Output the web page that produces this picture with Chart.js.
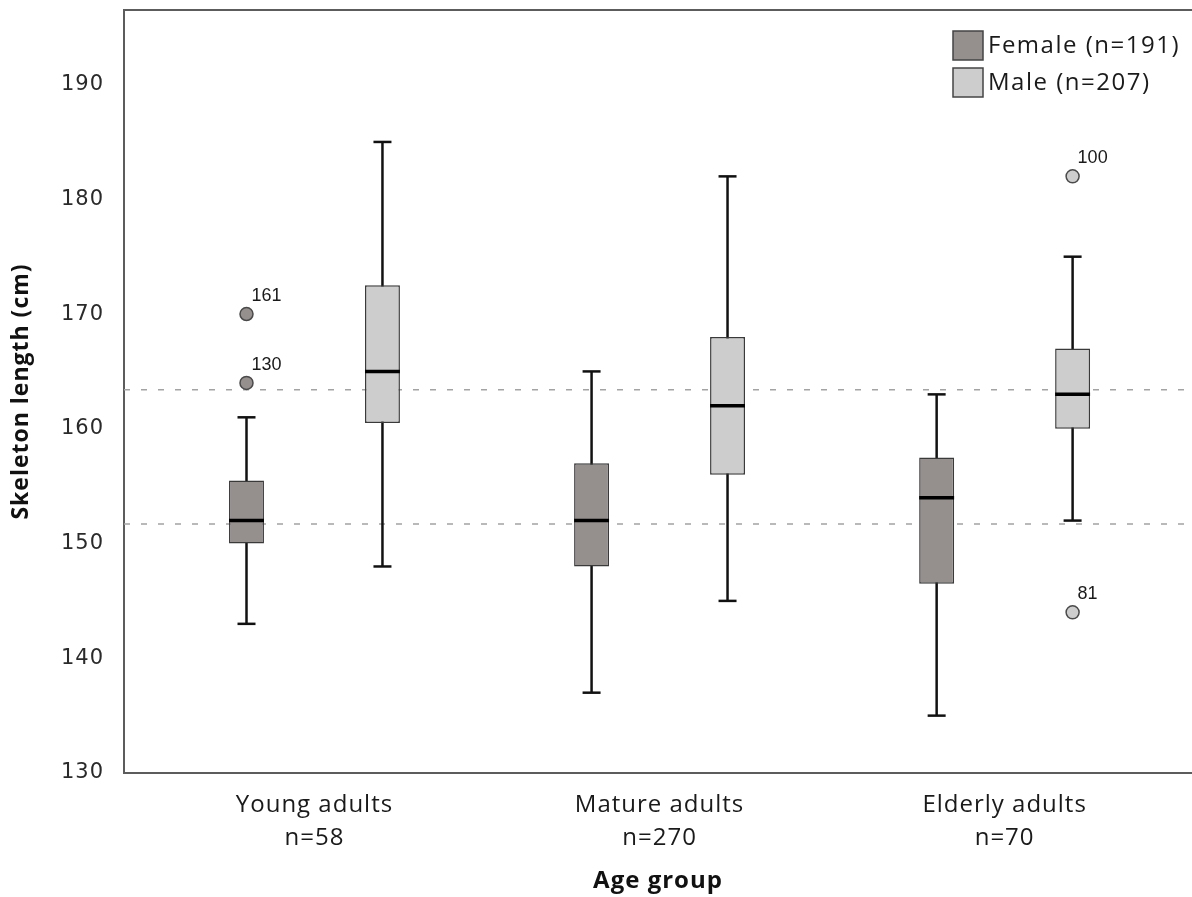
<!DOCTYPE html>
<html>
<head>
<meta charset="utf-8">
<script src="https://cdn.jsdelivr.net/npm/chart.js@4/dist/chart.umd.min.js"></script>
<style>
  html, body { margin: 0; padding: 0; background: #fff; }
  #wrap { width: 1192px; height: 897px; position: relative; }
</style>
</head>
<body>
<div id="wrap"><canvas id="chart"></canvas></div>
<script>
// categories
const groups = ['Young adults', 'Mature adults', 'Elderly adults'];
const groupN = ['n=58', 'n=270', 'n=70'];

// Female (n=191) five-number summaries, one per age group
const femaleMin = [143, 137, 135];
const femaleQ1 = [150, 148, 146.5];
const femaleMedian = [152, 152, 154];
const femaleQ3 = [155.5, 157, 157.5];
const femaleMax = [161, 165, 163];

// Male (n=207)
const maleMin = [148, 145, 152];
const maleQ1 = [160.5, 156, 160];
const maleMedian = [165, 162, 163];
const maleQ3 = [172.5, 168, 167];
const maleMax = [185, 182, 175];

// outliers: group index, value, case label
const femaleOutlierGroup = [0, 0];
const femaleOutlierValue = [170, 164];
const femaleOutlierCase = ['161', '130'];
const maleOutlierGroup = [2, 2];
const maleOutlierValue = [182, 144];
const maleOutlierCase = ['100', '81'];

// dashed reference lines
const refLines = [163.4, 151.7];

const yTicks = [130, 140, 150, 160, 170, 180, 190];

const series = [
    { label: 'Female (n=191)', color: '#958f8e', min: femaleMin, q1: femaleQ1, med: femaleMedian, q3: femaleQ3, max: femaleMax,
      outGroup: femaleOutlierGroup, outValue: femaleOutlierValue, outCase: femaleOutlierCase },
    { label: 'Male (n=207)', color: '#cdcdcd', min: maleMin, q1: maleQ1, med: maleMedian, q3: maleQ3, max: maleMax,
      outGroup: maleOutlierGroup, outValue: maleOutlierValue, outCase: maleOutlierCase }
];

function seg(ctx, x1, y1, x2, y2) {
    ctx.beginPath();
    ctx.moveTo(x1, y1);
    ctx.lineTo(x2, y2);
    ctx.stroke();
}

const boxPlot = {
    id: 'boxPlot',
    beforeDraw(chart) {
        // the reference text is set a little loose
        chart.ctx.letterSpacing = '1px';
    },
    beforeDatasetsDraw(chart) {
        const { ctx, chartArea, scales: { y } } = chart;
        ctx.save();
        // reference lines
        ctx.strokeStyle = '#a3a3a3';
        ctx.lineWidth = 1.5;
        ctx.setLineDash([6, 11]);
        refLines.forEach(v => {
            const py = y.getPixelForValue(v);
            seg(ctx, chartArea.left, py, chartArea.right, py);
        });
        ctx.setLineDash([]);
        // whiskers
        ctx.strokeStyle = '#111';
        ctx.lineWidth = 2.5;
        series.forEach((s, di) => {
            chart.getDatasetMeta(di).data.forEach((bar, i) => {
                const top = y.getPixelForValue(s.max[i]);
                const bot = y.getPixelForValue(s.min[i]);
                seg(ctx, bar.x, top, bar.x, bot);
                seg(ctx, bar.x - 9, top, bar.x + 9, top);
                seg(ctx, bar.x - 9, bot, bar.x + 9, bot);
            });
        });
        ctx.restore();
    },
    afterDatasetsDraw(chart) {
        const { ctx, scales: { y } } = chart;
        ctx.save();
        ctx.letterSpacing = '0px';
        series.forEach((s, di) => {
            const bars = chart.getDatasetMeta(di).data;
            // medians
            ctx.strokeStyle = '#000';
            ctx.lineWidth = 3.5;
            bars.forEach((bar, i) => {
                const py = y.getPixelForValue(s.med[i]);
                seg(ctx, bar.x - bar.width / 2, py, bar.x + bar.width / 2, py);
            });
            // outliers
            s.outValue.forEach((v, k) => {
                const bar = bars[s.outGroup[k]];
                const py = y.getPixelForValue(v);
                ctx.beginPath();
                ctx.arc(bar.x, py, 6.5, 0, Math.PI * 2);
                ctx.fillStyle = s.color;
                ctx.fill();
                ctx.strokeStyle = '#4a4a4a';
                ctx.lineWidth = 1.5;
                ctx.stroke();
                ctx.fillStyle = '#1a1a1a';
                ctx.font = '18px "Liberation Sans"';
                ctx.textAlign = 'left';
                ctx.textBaseline = 'alphabetic';
                ctx.fillText(s.outCase[k], bar.x + 5, py - 13);
            });
        });
        ctx.restore();
    },
    afterDraw(chart) {
        const { ctx, chartArea } = chart;
        ctx.save();
        // top frame line
        ctx.strokeStyle = '#5c5c5c';
        ctx.lineWidth = 2;
        seg(ctx, chartArea.left - 1, chartArea.top, chartArea.right, chartArea.top);
        // legend
        ctx.letterSpacing = '1.5px';
        ctx.font = '24px "Open Sans"';
        ctx.textBaseline = 'middle';
        ctx.textAlign = 'left';
        series.forEach((s, i) => {
            const bx = 953, by = 31 + i * 37;
            ctx.fillStyle = s.color;
            ctx.fillRect(bx, by, 30, 29);
            ctx.strokeStyle = '#444';
            ctx.lineWidth = 1.5;
            ctx.strokeRect(bx, by, 30, 29);
            ctx.fillStyle = '#1a1a1a';
            ctx.fillText(s.label, bx + 35, by + 15);
        });
        ctx.restore();
    }
};

const datasets = series.map(s => ({
    label: s.label,
    data: groups.map((g, i) => ({ x: i, y: [s.q1[i], s.q3[i]] })),
    backgroundColor: s.color,
    borderColor: '#3a3a3a',
    borderWidth: 1.5,
    borderSkipped: false,
    categoryPercentage: 0.788,
    barPercentage: 0.257
}));

new Chart(document.getElementById('chart'), {
    type: 'bar',
    data: { datasets: datasets },
    plugins: [boxPlot],
    options: {
        responsive: true,
        maintainAspectRatio: false,
        animation: false,
        layout: { padding: { top: 10, right: 0, bottom: 0, left: 0 } },
        plugins: {
            legend: { display: false },
            tooltip: { enabled: false }
        },
        scales: {
            x: {
                type: 'linear',
                offset: false,
                min: -0.552,
                max: 2.543,
                afterBuildTicks: axis => { axis.ticks = groups.map((g, i) => ({ value: i })); },
                afterFit: axis => {
                    axis.height = 124;
                    axis.paddingLeft = 0;
                    axis.paddingRight = 0;
                },
                grid: { display: false, offset: false },
                border: { display: true, color: '#5c5c5c', width: 2 },
                ticks: {
                    autoSkip: false,
                    maxRotation: 0,
                    padding: 8,
                    color: '#1a1a1a',
                    font: { size: 24, family: 'Open Sans', lineHeight: 1.375 },
                    callback: (v) => [groups[v], groupN[v]]
                },
                title: {
                    display: true,
                    text: 'Age group',
                    color: '#111',
                    font: { size: 24, family: 'Open Sans', weight: 'bold' },
                    padding: { top: 0, bottom: 1 }
                }
            },
            y: {
                min: 130,
                max: 196.5,
                afterBuildTicks: axis => { axis.ticks = yTicks.map(v => ({ value: v })); },
                afterFit: axis => {
                    axis.width = 124;
                    axis.paddingTop = 0;
                    axis.paddingBottom = 0;
                },
                grid: { display: false },
                border: { display: true, color: '#5c5c5c', width: 2 },
                ticks: {
                    padding: 12,
                    color: '#2a2a2a',
                    font: { size: 21, family: 'DejaVu Sans' }
                },
                title: {
                    display: true,
                    text: 'Skeleton length (cm)',
                    color: '#111',
                    font: { size: 23, family: 'Open Sans', weight: 'bold' },
                    padding: { top: 8, bottom: 0 }
                }
            }
        }
    }
});
</script>
</body>
</html>
